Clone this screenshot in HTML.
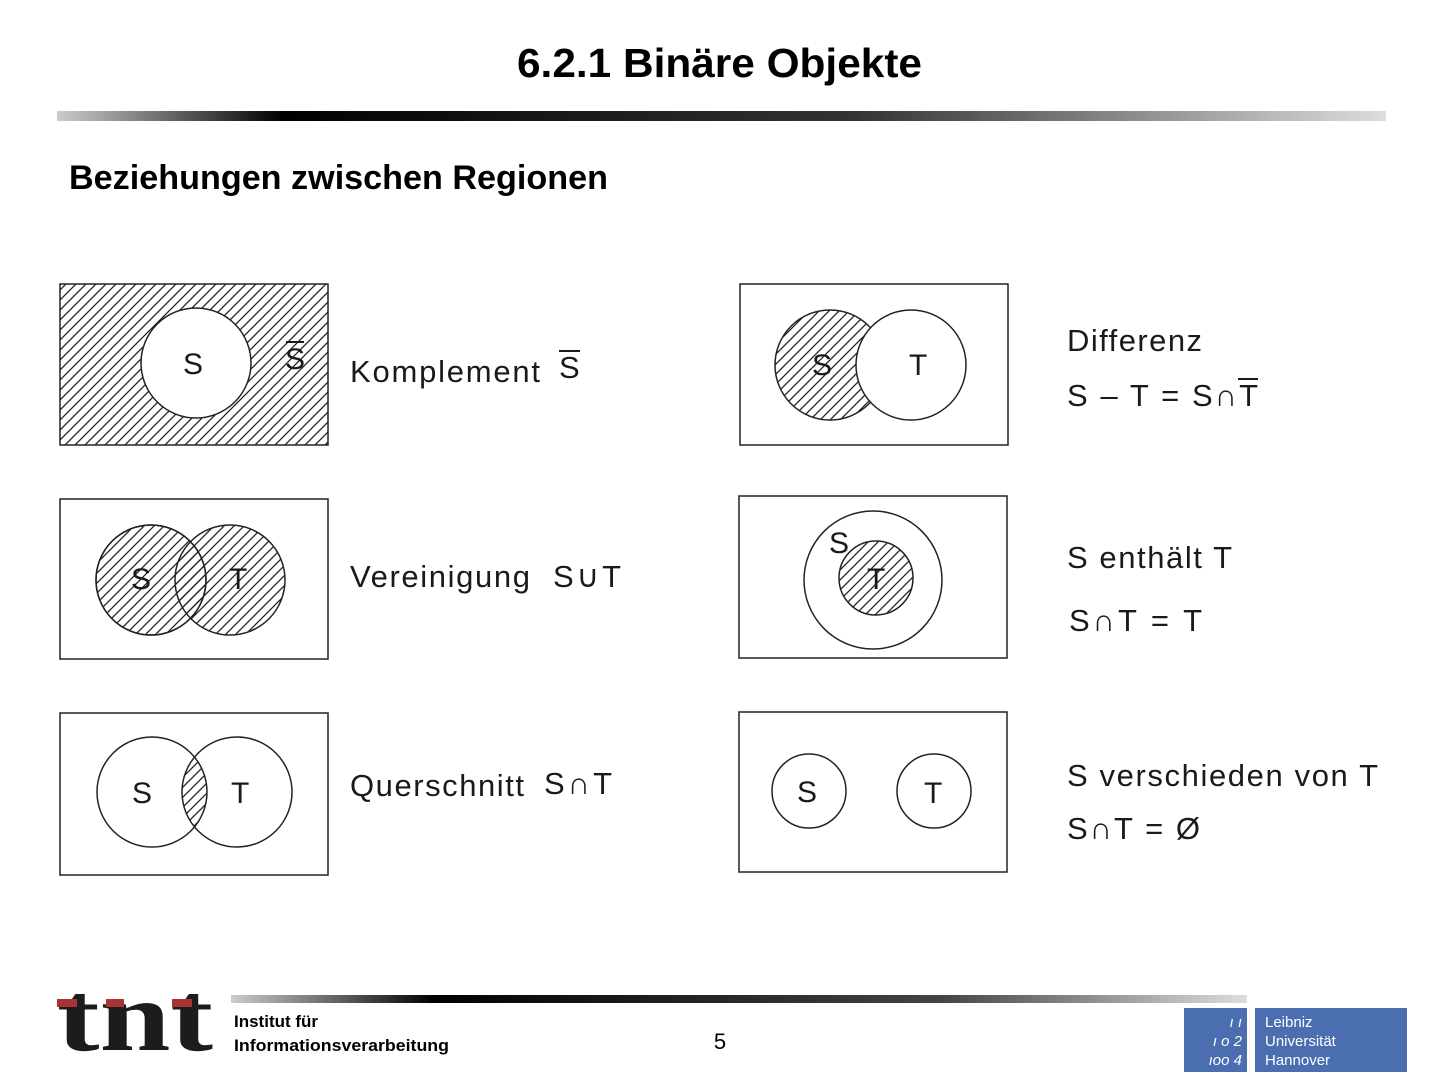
<!DOCTYPE html>
<html><head><meta charset="utf-8"><style>
html,body{margin:0;padding:0;background:#fff;}
svg{display:block;}
.h{font-family:"Liberation Sans",sans-serif;font-weight:bold;fill:#000;}
.t{font-family:"Liberation Sans","DejaVu Sans",sans-serif;fill:#1a1a1a;font-size:31px;}
.l{font-family:"Liberation Sans","DejaVu Sans",sans-serif;fill:#1a1a1a;font-size:30px;}
</style></head><body>
<svg width="1440" height="1080" viewBox="0 0 1440 1080" xmlns="http://www.w3.org/2000/svg">
<defs>
<pattern id="hp" width="10" height="10" patternUnits="userSpaceOnUse">
<path d="M-1,11 L11,-1 M-3,3 L3,-3 M7,13 L13,7" stroke="#222" stroke-width="1.3"/>
</pattern>
<linearGradient id="g1" x1="0" x2="1">
<stop offset="0" stop-color="#ccc"/><stop offset="0.17" stop-color="#000"/><stop offset="0.6" stop-color="#333"/><stop offset="1" stop-color="#ddd"/>
</linearGradient>
<linearGradient id="g2" x1="0" x2="1">
<stop offset="0" stop-color="#ccc"/><stop offset="0.2" stop-color="#000"/><stop offset="0.7" stop-color="#444"/><stop offset="1" stop-color="#ddd"/>
</linearGradient>
<clipPath id="cS3"><circle cx="152" cy="792" r="55"/></clipPath>
</defs>
<text class="h" x="517" y="77" font-size="41" textLength="405" lengthAdjust="spacingAndGlyphs">6.2.1 Binäre Objekte</text>
<rect x="57" y="111" width="1329" height="10" fill="url(#g1)"/>
<text class="h" x="69" y="189" font-size="34" textLength="539" lengthAdjust="spacingAndGlyphs">Beziehungen zwischen Regionen</text>

<g stroke="#222" stroke-width="1.5">
<rect x="60" y="284" width="268" height="161" fill="url(#hp)"/>
<circle cx="196" cy="363" r="55" fill="#fff"/>
<rect x="60" y="499" width="268" height="160" fill="#fff"/>
<circle cx="151" cy="580" r="55" fill="url(#hp)"/>
<circle cx="230" cy="580" r="55" fill="url(#hp)"/>
<circle cx="151" cy="580" r="55" fill="none"/>
<rect x="60" y="713" width="268" height="162" fill="#fff"/>
<circle cx="237" cy="792" r="55" fill="url(#hp)" clip-path="url(#cS3)" stroke="none"/>
<circle cx="152" cy="792" r="55" fill="none"/>
<circle cx="237" cy="792" r="55" fill="none"/>
<rect x="740" y="284" width="268" height="161" fill="#fff"/>
<circle cx="830" cy="365" r="55" fill="url(#hp)"/>
<circle cx="911" cy="365" r="55" fill="#fff"/>
<rect x="739" y="496" width="268" height="162" fill="#fff"/>
<circle cx="873" cy="580" r="69" fill="#fff"/>
<circle cx="876" cy="578" r="37" fill="url(#hp)"/>
<rect x="739" y="712" width="268" height="160" fill="#fff"/>
<circle cx="809" cy="791" r="37" fill="#fff"/>
<circle cx="934" cy="791" r="37" fill="#fff"/>
</g>

<g class="l">
<text x="183" y="374">S</text>
<text x="285" y="369">S</text><rect x="286" y="341" width="18" height="2" fill="#1a1a1a"/>
<text x="131" y="589">S</text><text x="229" y="589">T</text>
<text x="132" y="803">S</text><text x="231" y="803">T</text>
<text x="812" y="375">S</text><text x="909" y="375">T</text>
<text x="829" y="553">S</text><text x="867" y="589">T</text>
<text x="797" y="802">S</text><text x="924" y="803">T</text>
</g>

<g class="t">
<text x="350" y="382" textLength="190" lengthAdjust="spacing">Komplement</text>
<text x="559" y="378">S</text>
<rect x="559" y="350" width="21" height="2" fill="#1a1a1a"/>
<text x="350" y="587" textLength="180" lengthAdjust="spacing">Vereinigung</text>
<text x="553" y="587" textLength="68" lengthAdjust="spacing">S∪T</text>
<text x="350" y="796" textLength="174" lengthAdjust="spacing">Querschnitt</text>
<text x="544" y="794" textLength="68" lengthAdjust="spacing">S∩T</text>
<text x="1067" y="351" textLength="135" lengthAdjust="spacing">Differenz</text>
<text x="1067" y="406" textLength="191" lengthAdjust="spacing">S – T = S∩T</text>
<rect x="1238" y="378" width="20" height="2" fill="#1a1a1a"/>
<text x="1067" y="568" textLength="165" lengthAdjust="spacing">S enthält T</text>
<text x="1069" y="631" textLength="133" lengthAdjust="spacing">S∩T = T</text>
<text x="1067" y="786" textLength="311" lengthAdjust="spacing">S verschieden von T</text>
<text x="1067" y="839" textLength="133" lengthAdjust="spacing">S∩T = Ø</text>
</g>

<rect x="231" y="995" width="1016" height="8" fill="url(#g2)"/>
<text x="57" y="1050" font-family="Liberation Serif,serif" font-weight="bold" font-size="100" fill="#1c1c1c" textLength="156" lengthAdjust="spacingAndGlyphs">tnt</text>
<rect x="57" y="999" width="20" height="8" fill="#a33"/><rect x="106" y="999" width="18" height="8" fill="#a33"/><rect x="172" y="999" width="20" height="8" fill="#a33"/>
<text class="h" x="234" y="1027" font-size="17">Institut für</text>
<text class="h" x="234" y="1051" font-size="17" textLength="215" lengthAdjust="spacingAndGlyphs">Informationsverarbeitung</text>
<text x="720" y="1049" font-family="Liberation Sans,sans-serif" font-size="22" text-anchor="middle">5</text>
<rect x="1184" y="1008" width="63" height="64" fill="#4a6eb0"/>
<rect x="1255" y="1008" width="152" height="64" fill="#4a6eb0"/>
<g font-family="Liberation Sans,sans-serif" font-size="15" fill="#fff">
<text x="1265" y="1027">Leibniz</text><text x="1265" y="1046">Universität</text><text x="1265" y="1065">Hannover</text>
<text x="1242" y="1027" text-anchor="end" font-style="italic">ı ı</text>
<text x="1242" y="1046" text-anchor="end" font-style="italic">ı o 2</text>
<text x="1242" y="1065" text-anchor="end" font-style="italic">ıoo 4</text>
</g>
</svg>
</body></html>
